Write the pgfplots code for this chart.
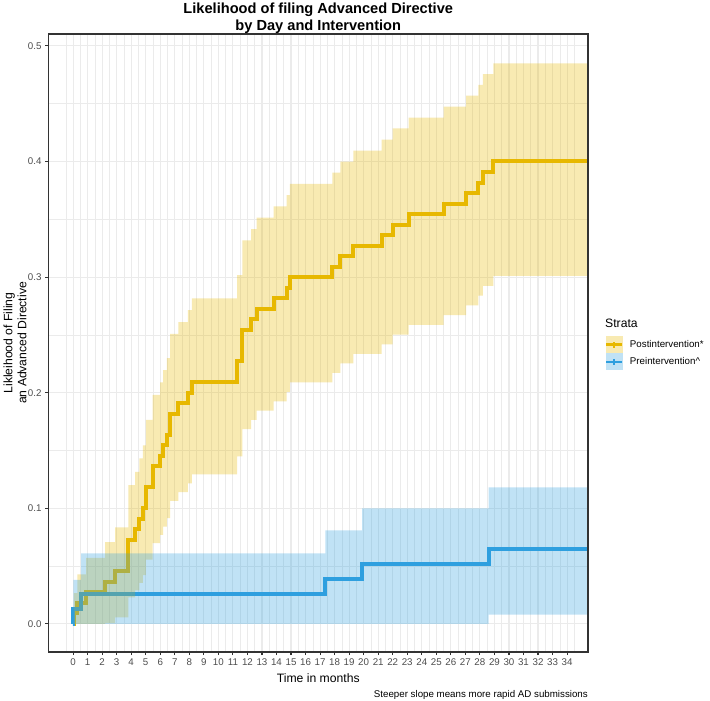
\documentclass[border=0pt]{standalone}
\usepackage{pgfplots}
\pgfplotsset{compat=1.18}
\usepackage{pgfplotstable}
\usepgfplotslibrary{fillbetween}
\usepackage{fontspec}
\setmainfont{Liberation Sans}
\definecolor{ylinec}{HTML}{E7B800}
\definecolor{blinec}{HTML}{2E9FDF}
\definecolor{grey92}{HTML}{EBEBEB}
\definecolor{grey20}{HTML}{333333}
\definecolor{grey30}{HTML}{4D4D4D}
\pgfplotsset{
  layers/mylayers/.define layer set={axis background, axis grid, curves, pre main, main, axis ticks, axis lines, axis tick labels, axis descriptions, axis foreground}{
    grid style={/pgfplots/on layer=axis grid},
    tick style={/pgfplots/on layer=axis ticks},
    axis line style={/pgfplots/on layer=axis lines},
    label style={/pgfplots/on layer=axis descriptions},
    legend style={/pgfplots/on layer=axis foreground},
    title style={/pgfplots/on layer=axis descriptions},
    ticklabel style={/pgfplots/on layer=axis tick labels},
  },
}

% Postintervention: time (months), estimate, lower, upper
\pgfplotstableread{
t est lo hi
0 0 0 0
0.05 0.00909 0 0.0267
0.3 0.01818 0 0.0428
0.9 0.02727 0 0.0572
2.2 0.03636 0.0007 0.0707
2.9 0.04545 0.0057 0.0836
3.8 0.07273 0.0229 0.1200
4.27 0.08182 0.0291 0.1316
4.56 0.09091 0.0356 0.1431
4.8 0.1 0.0422 0.1544
5.02 0.11818 0.0557 0.1765
5.48 0.13636 0.0698 0.1982
6.0 0.14545 0.0770 0.2089
6.2 0.15455 0.0842 0.2195
6.45 0.16364 0.0916 0.2300
6.68 0.18182 0.1065 0.2508
7.25 0.19091 0.1140 0.2611
7.9 0.2 0.1216 0.2714
8.17 0.20909 0.1293 0.2816
11.3 0.22727 0.1449 0.3017
11.65 0.25455 0.1685 0.3317
12.25 0.26364 0.1765 0.3415
12.64 0.27273 0.1846 0.3514
13.8 0.28182 0.1926 0.3612
14.7 0.29091 0.2007 0.3709
14.92 0.3 0.2089 0.3806
17.85 0.30909 0.2171 0.3903
18.4 0.31818 0.2253 0.3999
19.3 0.32727 0.2336 0.4095
21.24 0.33636 0.2419 0.4190
22.0 0.34545 0.2503 0.4286
23.1 0.35455 0.2587 0.4380
25.5 0.36364 0.2671 0.4475
27.05 0.37273 0.2755 0.4569
27.9 0.38182 0.2840 0.4663
28.2 0.39091 0.2925 0.4756
28.93 0.4 0.3011 0.4849
35.44 0.4 0.3011 0.4849
}\postdata

% Preintervention
\pgfplotstableread{
t est lo hi
0 0 0 0
0.02 0.01299 0 0.038
0.55 0.02597 0 0.061
17.36 0.03896 0 0.081
19.9 0.05195 0 0.100
28.6 0.06494 0.008 0.118
35.44 0.06494 0.008 0.118
}\predata

\begin{document}
\begin{tikzpicture}
\begin{axis}[
  set layers=mylayers, clip mode=individual,
  at={(0,0)}, anchor=south west,
  scale only axis, width=485.55bp, height=556.2bp,
  xmin=-1.69, xmax=35.44, ymin=-0.0243, ymax=0.5103,
  xtick={0,...,34},
  minor xtick={-0.5,0.5,...,34.5},
  ytick={0,0.1,0.2,0.3,0.4,0.5},
  minor ytick={0.05,0.15,0.25,0.35,0.45},
  grid=both,
  major grid style={color=grey92, line width=1.0bp},
  minor grid style={color=grey92, line width=0.5bp},
  axis line style={color=grey20, line width=1.0bp},
  tick align=outside, tick pos=left,
  major tick length=2.75bp, minor tick length=0pt,
  tick style={color=grey20, line width=1.0bp},
  /pgf/number format/assume math mode=true,
  ticklabel style={font=\fontsize{8.8}{10}\selectfont, text=grey30},
  yticklabel style={/pgf/number format/.cd, fixed, fixed zerofill, precision=1},
  xticklabel style={/pgf/number format/.cd, fixed, precision=0},
  legend style={at={(axis description cs:1.0315,0.5113)}, anchor=north west,
    draw=none, fill=none, inner sep=0pt, outer sep=0pt, row sep=0pt,
    font=\fontsize{8.8}{10}\selectfont, nodes={inner sep=0pt},
    /tikz/every odd column/.append style={column sep=6bp}},
  legend cell align=left,
]
\addplot[ylinec, line width=3.6bp, const plot, forget plot, on layer=curves] table[x=t,y=est]{\postdata};
\addplot[blinec, line width=3.6bp, const plot, forget plot, on layer=curves] table[x=t,y=est]{\predata};
\addplot[draw=none, const plot, name path=phi, forget plot] table[x=t,y=hi]{\postdata};
\addplot[draw=none, const plot, name path=plo, forget plot] table[x=t,y=lo]{\postdata};
\addplot[fill=ylinec, fill opacity=0.3, draw=none, forget plot] fill between[of=phi and plo];
\addplot[draw=none, const plot, name path=bhi, forget plot] table[x=t,y=hi]{\predata};
\addplot[draw=none, const plot, name path=blo, forget plot] table[x=t,y=lo]{\predata};
\addplot[fill=blinec, fill opacity=0.3, draw=none, forget plot] fill between[of=bhi and blo];

\addlegendimage{legend image code/.code={
  \path[draw=none, fill=ylinec, fill opacity=0.3] (0bp,-7.75bp) rectangle (15.5bp,7.75bp);
  \path[draw=ylinec, line width=2.2bp] (0.6bp,0bp) -- (14.9bp,0bp);
  \path[draw=ylinec, line width=1.2bp] (7.75bp,-2.6bp) -- (7.75bp,2.6bp);
}}
\addlegendentry{Postintervention*}
\addlegendimage{legend image code/.code={
  \path[draw=none, fill=blinec, fill opacity=0.3] (0bp,-7.75bp) rectangle (15.5bp,7.75bp);
  \path[draw=blinec, line width=2.2bp] (0.6bp,0bp) -- (14.9bp,0bp);
  \path[draw=blinec, line width=1.2bp] (7.75bp,-2.6bp) -- (7.75bp,2.6bp);
}}
\addlegendentry{Preintervention\textasciicircum}
\end{axis}
\node[align=center, font=\bfseries\fontsize{13.2}{15.3}\selectfont] at (242.78bp,570.15bp)
  {Likelihood of filing Advanced Directive\\by Day and Intervention};
\node[font=\fontsize{11}{12.6}\selectfont] at (242.78bp,-23.85bp) {Time in months};
\node[anchor=east, inner sep=0pt, font=\fontsize{8.8}{10}\selectfont] at (485.55bp,-38.25bp)
  {Steeper slope means more rapid AD submissions};
\node[rotate=90, align=center, font=\fontsize{11}{12.6}\selectfont] at (-30.15bp,278.1bp)
  {Likleihood of Filing\\an Advanced Directive};
\node[anchor=base west, inner sep=0pt, font=\fontsize{11}{12.6}\selectfont] at (500.85bp,291.6bp) {Strata};
\pgfresetboundingbox
\path[use as bounding box] (-43.65bp,-44.1bp) rectangle (595.35bp,586.8bp);
\end{tikzpicture}
\end{document}
